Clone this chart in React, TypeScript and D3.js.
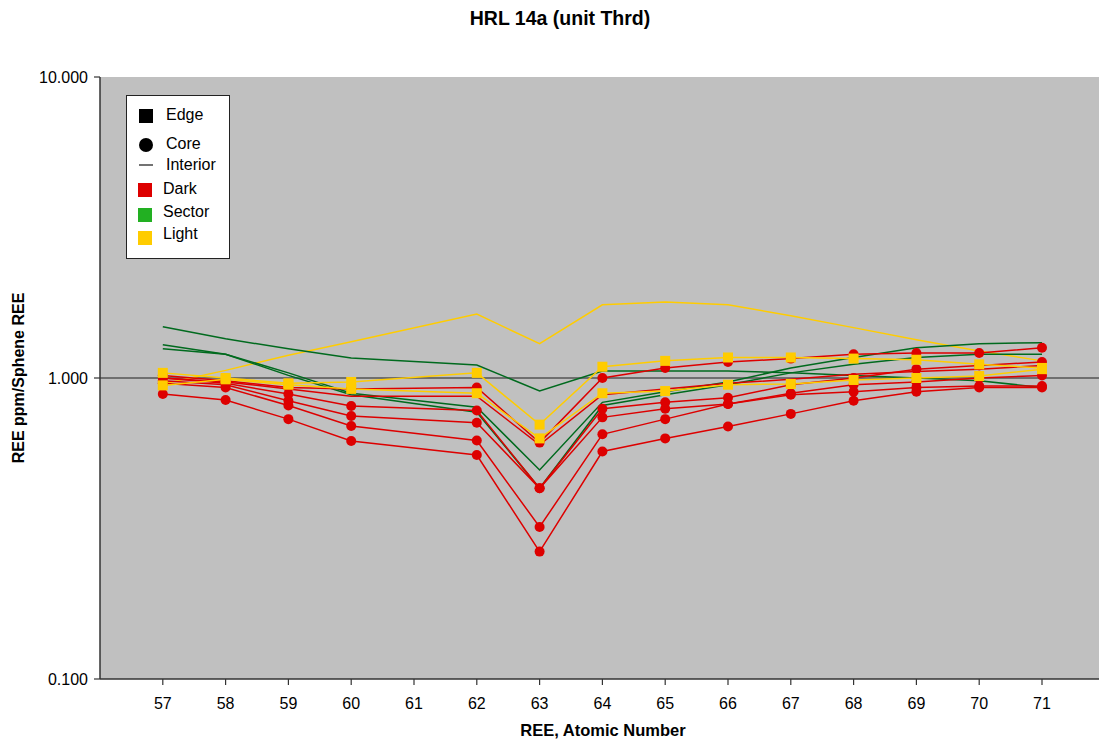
import React from "react";
import * as d3 from "d3";

const categories = ["", "57", "58", "59", "60", "61", "62", "63", "64", "65", "66", "67", "68", "69", "70", "71"];
const atomicNumbers = ["57", "58", "59", "60", "61", "62", "63", "64", "65", "66", "67", "68", "69", "70", "71"];
const yTicks = [0.1, 1, 10];

// Interior (lines only)
const lightInterior = [0.955, 1.06, 1.19, 1.32, null, 1.63, 1.30, 1.75, 1.79, 1.75, 1.61, 1.47, 1.34, 1.23, 1.14];
const sectorInterior1 = [1.48, 1.35, 1.25, 1.165, null, 1.105, 0.905, 1.055, 1.055, 1.055, 1.04, 1.02, 1.0, 0.98, 0.93];
const sectorInterior2 = [1.29, 1.2, 1.04, 0.89, null, 0.8, 0.495, 0.83, 0.9, 0.97, 1.08, 1.17, 1.26, 1.3, 1.31];
const sectorInterior3 = [1.25, 1.2, 1.02, 0.88, null, 0.77, 0.43, 0.81, 0.88, 0.95, 1.04, 1.11, 1.17, 1.2, 1.2];
const darkInterior = [1.0, 0.97, 0.92, 0.87, null, 0.87, 0.6, 0.88, 0.92, 0.96, 0.99, 1.03, 1.05, 1.07, 1.1];

// Core (circles)
const darkCoreA = [1.02, 0.98, 0.93, 0.92, null, 0.93, 0.61, 1.0, 1.08, 1.13, 1.16, 1.2, 1.21, 1.21, 1.26];
const darkCoreB = [1.0, 0.96, 0.885, 0.807, null, 0.78, 0.43, 0.79, 0.83, 0.86, 0.95, 1.0, 1.07, 1.1, 1.13];
const darkCoreC = [0.98, 0.95, 0.84, 0.748, null, 0.71, 0.43, 0.74, 0.79, 0.82, 0.89, 0.95, 0.97, 1.0, 1.02];
const darkCoreD = [0.96, 0.93, 0.81, 0.693, null, 0.62, 0.32, 0.65, 0.73, 0.82, 0.88, 0.9, 0.93, 0.94, 0.94];
const darkCoreE = [0.885, 0.845, 0.73, 0.618, null, 0.555, 0.265, 0.57, 0.63, 0.69, 0.76, 0.84, 0.9, 0.93, 0.93];

// Edge (squares)
const lightEdge1 = [1.04, 1.0, 0.96, 0.97, null, 1.04, 0.7, 1.09, 1.14, 1.17, 1.17, 1.16, 1.15, 1.11, 1.08];
const lightEdge2 = [0.945, 0.99, 0.95, 0.92, null, 0.89, 0.63, 0.89, 0.905, 0.95, 0.955, 0.985, 1.0, 1.015, 1.07];

const RED = "#DD0000";
const GREEN_LINE = "#006A1E";
const GREEN_KEY = "#22B022";
const YELLOW = "#FFCC00";

type Series = { values: (number | null)[]; color: string; marker: "none" | "circle" | "square" };

const series: Series[] = [
  { values: lightInterior, color: YELLOW, marker: "none" },
  { values: sectorInterior1, color: GREEN_LINE, marker: "none" },
  { values: sectorInterior2, color: GREEN_LINE, marker: "none" },
  { values: sectorInterior3, color: GREEN_LINE, marker: "none" },
  { values: darkInterior, color: RED, marker: "none" },
  { values: darkCoreA, color: RED, marker: "circle" },
  { values: darkCoreB, color: RED, marker: "circle" },
  { values: darkCoreC, color: RED, marker: "circle" },
  { values: darkCoreD, color: RED, marker: "circle" },
  { values: darkCoreE, color: RED, marker: "circle" },
  { values: lightEdge1, color: YELLOW, marker: "square" },
  { values: lightEdge2, color: YELLOW, marker: "square" },
];

const W = 1099;
const H = 745;
const left = 100;
const top = 77;
const bottom = 679;
const right = 1099;
const FONT = "'Liberation Sans', Arial, sans-serif";

export default function App() {
  const x = d3.scalePoint<string>().domain(categories).range([left, 1042]);
  const y = d3.scaleLog().domain([0.1, 10]).range([bottom, top]);
  const line = d3
    .line<{ c: string; v: number }>()
    .x((d) => x(d.c) as number)
    .y((d) => y(d.v));

  const pts = (s: Series) =>
    s.values
      .map((v, i) => ({ c: atomicNumbers[i], v }))
      .filter((d) => d.v !== null) as { c: string; v: number }[];

  return (
    <svg width={W} height={H} style={{ position: "absolute", left: 0, top: 0, background: "#fff" }} fontFamily={FONT}>
      <text x={560} y={25} textAnchor="middle" fontWeight="bold" fontSize={19.5}>
        HRL 14a (unit Thrd)
      </text>
      <rect x={left} y={top} width={right - left} height={bottom - top} fill="#C0C0C0" />
      {/* gridline at 1 */}
      <line x1={left} x2={right} y1={y(1)} y2={y(1)} stroke="#555" strokeWidth={1.5} />
      {/* series lines */}
      {series.map((s, i) => (
        <path key={"l" + i} d={line(pts(s)) || ""} fill="none" stroke={s.color} strokeWidth={1.5} />
      ))}
      {series.map((s, i) =>
        s.marker === "circle"
          ? pts(s).map((d, j) => <circle key={"c" + i + "-" + j} cx={x(d.c)} cy={y(d.v)} r={5} fill={s.color} />)
          : null
      )}
      {series.map((s, i) =>
        s.marker === "square"
          ? pts(s).map((d, j) => (
              <rect key={"s" + i + "-" + j} x={(x(d.c) as number) - 5} y={y(d.v) - 5} width={10} height={10} fill={s.color} />
            ))
          : null
      )}
      {/* axes */}
      <line x1={left} x2={left} y1={top} y2={bottom} stroke="#333" strokeWidth={1.5} />
      <line x1={left} x2={right} y1={bottom} y2={bottom} stroke="#333" strokeWidth={1.5} />
      {yTicks.map((t) => (
        <g key={"yt" + t}>
          <line x1={left - 6} x2={left} y1={y(t)} y2={y(t)} stroke="#333" strokeWidth={1.2} />
          <text x={left - 12} y={y(t) + 6} textAnchor="end" fontSize={16}>
            {d3.format(".3f")(t)}
          </text>
        </g>
      ))}
      {categories.map((c, i) =>
        i === 0 ? null : (
          <g key={"xt" + c}>
            <line x1={x(c)} x2={x(c)} y1={bottom} y2={bottom + 6} stroke="#333" strokeWidth={1.2} />
            <text x={x(c)} y={bottom + 30} textAnchor="middle" fontSize={16}>
              {c}
            </text>
          </g>
        )
      )}
      <text x={603} y={736} textAnchor="middle" fontWeight="bold" fontSize={16.5}>
        REE, Atomic Number
      </text>
      <text
        transform={`translate(24, ${(top + bottom) / 2}) rotate(-90)`}
        textAnchor="middle"
        fontWeight="bold"
        fontSize={16}
      >
        REE ppm/Sphene REE
      </text>
      {/* legend */}
      <rect x={126.5} y={95.5} width={103} height={163} fill="#fff" stroke="#222" strokeWidth={1} />
      <rect x={139} y={109} width={14} height={14} fill="#000" />
      <text x={166} y={120} fontSize={16}>Edge</text>
      <circle cx={146} cy={145} r={7} fill="#000" />
      <text x={166} y={149} fontSize={16}>Core</text>
      <line x1={139} x2={153} y1={165} y2={165} stroke="#444" strokeWidth={1.5} />
      <text x={166} y={170} fontSize={16}>Interior</text>
      <rect x={138} y={183} width={14} height={14} fill={RED} />
      <text x={163} y={194} fontSize={16}>Dark</text>
      <rect x={138} y={208} width={14} height={14} fill={GREEN_KEY} />
      <text x={163} y={217} fontSize={16}>Sector</text>
      <rect x={138} y={231} width={14} height={14} fill={YELLOW} />
      <text x={163} y={239} fontSize={16}>Light</text>
    </svg>
  );
}
